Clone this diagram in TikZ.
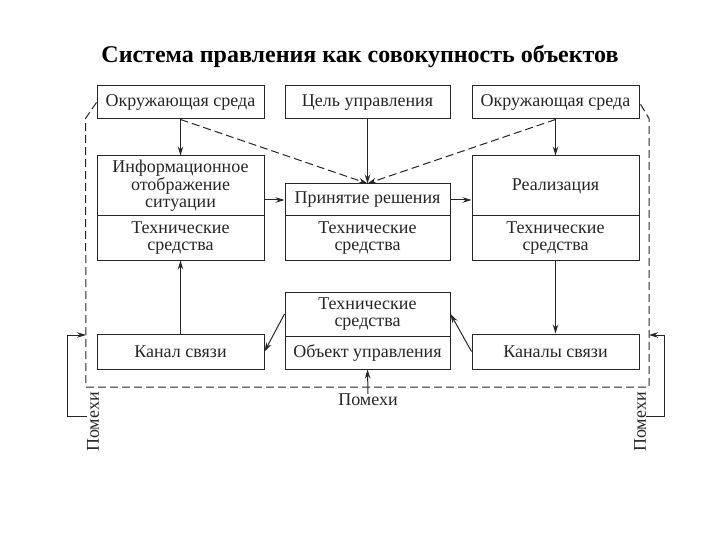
\documentclass[tikz,border=0pt]{standalone}
\usepackage{fontspec}
\setmainfont{Liberation Serif}
\usetikzlibrary{arrows.meta,positioning}
\begin{document}
\begin{tikzpicture}[x=1pt,y=-1pt]
                \tikzstyle{every node}+=[inner sep=0pt, align=center, text=black!85, font=\fontsize{18}{17.5}\selectfont]
                \tikzstyle{box}=[draw=black!85, line width=1pt, minimum width=167pt]
                \tikzstyle{arr}=[draw=black!85, line width=1pt, -{Stealth[length=9pt,width=5.5pt]}]
                \tikzstyle{darr}=[arr, dash pattern=on 8pt off 4pt]
                \tikzstyle{frame}=[draw=black!85, line width=1pt, dash pattern=on 8pt off 4pt]
                \useasboundingbox (0,0) rectangle (720,540);
                \node [text=black, font=\fontsize{24}{28}\selectfont\bfseries] (title) at (360,57) {Система правления как совокупность объектов};
                \node [box, minimum height=33pt] (envl) at (180.5,102.5) {Окружающая среда};
                \node [box, minimum height=33pt, minimum width=165pt] (goal) at (367.5,102.5) {Цель управления};
                \node [box, minimum height=33pt] (envr) at (555.5,102.5) {Окружающая среда};
                \node [box, minimum height=60pt] (info) at (180.5,186) {Информационное\\отображение\\ситуации};
                \node [box, minimum height=44pt] (infots) at (180.5,238) {Технические\\средства};
                \node [box, minimum height=32pt, minimum width=165pt] (dec) at (367.5,200) {Принятие решения};
                \node [box, minimum height=44pt, minimum width=165pt] (dects) at (367.5,238) {Технические\\средства};
                \node [box, minimum height=60pt] (impl) at (555.5,186) {Реализация};
                \node [box, minimum height=44pt] (implts) at (555.5,238) {Технические\\средства};
                \node [box, minimum height=35pt] (chl) at (180.5,351.5) {Канал связи};
                \node [box, minimum height=44pt, minimum width=165pt] (objts) at (367.5,314) {Технические\\средства};
                \node [box, minimum height=33pt, minimum width=165pt] (obj) at (367.5,352.5) {Объект управления};
                \node [box, minimum height=35pt] (chr) at (555.5,351.5) {Каналы связи};
                \node (nb) at (368,400) {Помехи};
                \node [rotate=90] (nl) at (93,422) {Помехи};
                \node [rotate=90] (nr) at (640,422) {Помехи};
                \coordinate (nlin) at (86,335);
                \coordinate (nrin) at (649,335);
                \draw [frame] (envl.west) -- ++(-11,16) -- (86,387) -- (649,387) -- (649,118.5) -- (envr.east);
                \draw [arr] (envl.south) -- (info.north);
                \draw [darr] (envl.south) -- (dec.north);
                \draw [arr] (goal.south) -- (dec.north);
                \draw [darr] (envr.south) -- (dec.north);
                \draw [arr] (envr.south) -- (impl.north);
                \draw [arr] (info.east |- dec) -- (dec.west);
                \draw [arr] (dec.east) -- (impl.west |- dec);
                \draw [arr] (implts.south) -- (chr.north);
                \draw [arr] (chr.west) -- (objts.east);
                \draw [arr] (objts.west) -- (chl.east);
                \draw [arr] (chl.north) -- (infots.south);
                \draw [arr] (nb.north) -- (obj.south);
                \draw [arr] ([yshift=6pt]nl.north) -- ++(-19,0) |- (nlin);
                \draw [arr] ([yshift=6pt]nr.south) -- ++(18,0) |- (nrin);
            \end{tikzpicture}
\end{document}
